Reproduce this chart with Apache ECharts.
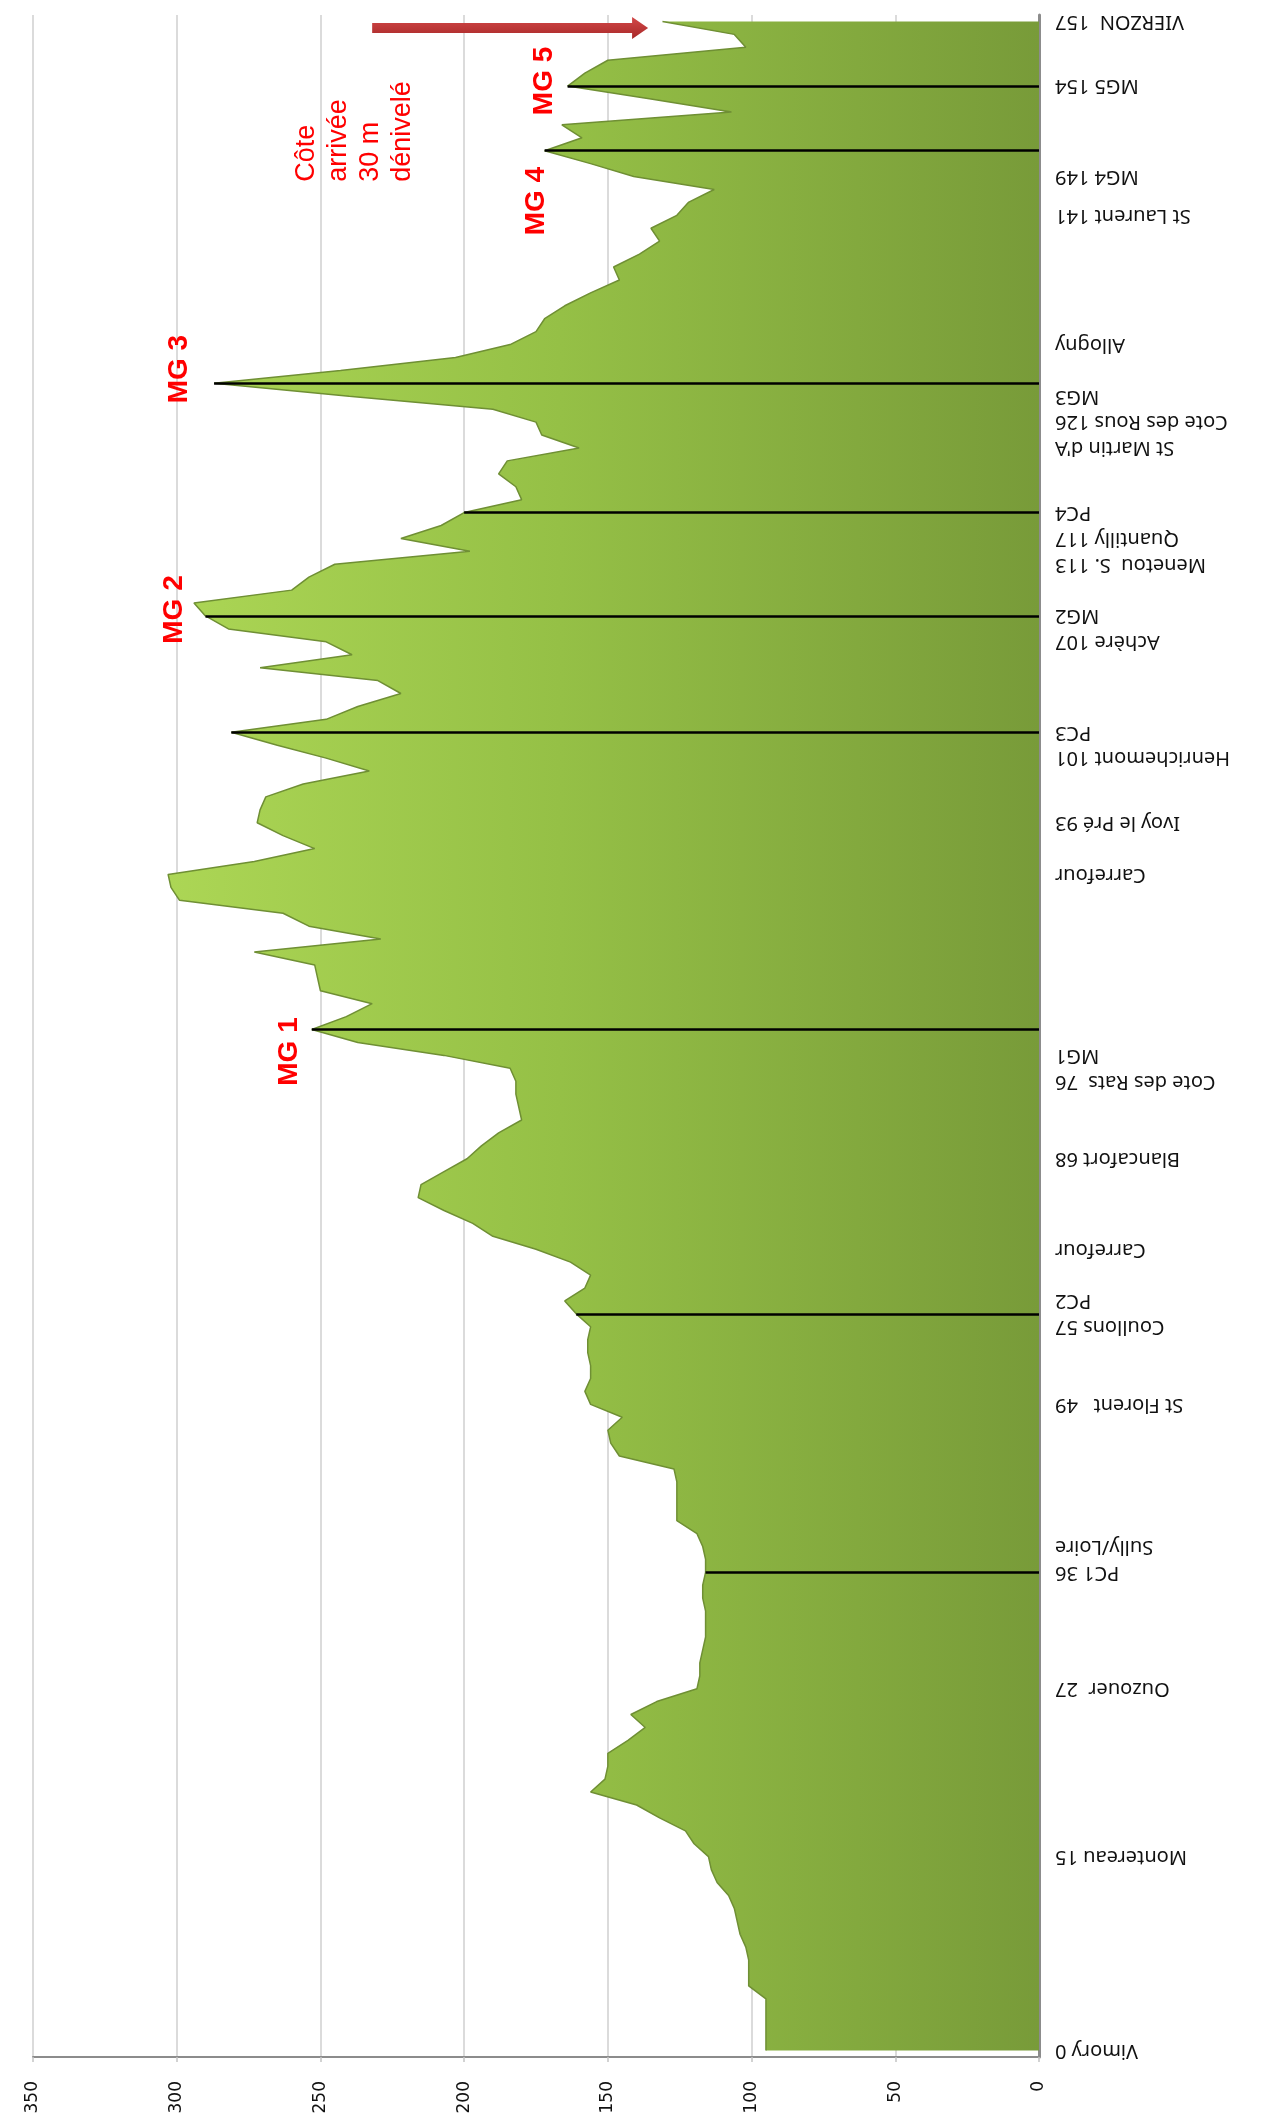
<!DOCTYPE html>
<html><head><meta charset="utf-8">
<script src="https://cdn.jsdelivr.net/npm/echarts@6/dist/echarts.min.js"></script>
<style>html,body{margin:0;padding:0;background:#fff}#c{width:1262px;height:2119px}</style>
</head><body><div id="c"></div>
<script>
// Elevation (m) at each sample point of the route, from Vimory (first) to Vierzon (last)
const elevations = [
  95,95,95,95,95,101,101,101,102,104,
  105,106,108,112,114,115,120,123,132,140,
  156,151,150,150,143,137,142,133,119,118,
  118,117,116,116,116,117,117,116,116,117,
  119,126,126,126,126,127,146,149,150,145,
  156,158,156,156,157,157,156,161,165,158,
  156,163,175,190,197,207,216,215,207,199,
  194,188,180,181,182,182,184,207,237,253,
  241,232,250,251,252,273,229,254,263,299,
  302,303,273,252,263,272,271,269,256,233,
  248,265,281,248,237,222,230,271,239,248,
  282,290,294,260,254,245,198,222,208,200,
  180,182,188,185,160,173,175,190,240,287,
  243,203,184,175,172,165,156,146,148,139,
  132,135,126,122,113,141,156,172,159,166,
  107,135,164,158,150,102,106,131
];
const categories = elevations.map((_, i) => String(i));

// Category (place) labels: sample index and text
const stationIdx  = [0, 15, 28, 37, 39, 50, 56, 58, 62, 69, 75, 77, 91, 95, 100, 102, 109, 111, 115, 117, 119, 124, 126, 128, 132, 142, 145, 152, 157];
const stationText = ['Vimory 0','Montereau 15','Ouzouer  27','PC1 36','Sully/Loire','St Florent   49','Coullons 57','PC2','Carrefour','Blancafort 68','Cote des Rats  76','MG1','Carrefour','Ivoy le Pré 93','Henrichemont 101','PC3','Achère 107','MG2','Menetou  S. 113','Quantilly 117','PC4',"St Martin d'A",'Cote des Rous 126','MG3','Allogny','St Laurent 141','MG4 149','MG5 154','VIERZON  157'];

// Value axis ticks
const valueTicks = [0, 50, 100, 150, 200, 250, 300, 350];

// Drop lines from summits / checkpoints to the axis: [sample index, elevation]
const dropIdx = [37, 57, 79, 102, 111, 119, 129, 147, 152];

// Red annotations: [text, elevation position, sample position]
const mgText = ['MG 5', 'MG 4', 'MG 3', 'MG 2', 'MG 1'];
const mgVal  = [172, 175, 299, 301, 261];
const mgPos  = [152.4, 143.1, 130.1, 111.5, 77.3];

const labelMap = {};
stationIdx.forEach((k, j) => { labelMap[k] = stationText[j]; });

const chart = echarts.init(document.getElementById('c'), null, {renderer: 'canvas'});
const option = {
  animation: false,
  backgroundColor: '#ffffff',
  grid: {left: 33, right: 223, top: 15, bottom: 62, containLabel: false, outerBoundsMode: 'none'},
  xAxis: {
    type: 'value', inverse: true,
    min: valueTicks[0], max: valueTicks[valueTicks.length - 1], interval: valueTicks[1] - valueTicks[0],
    position: 'bottom',
    axisLine: {show: true, onZero: false, lineStyle: {color: '#8c8c8c', width: 2}},
    axisTick: {show: true, length: 5, lineStyle: {color: '#c4c4c4', width: 1.5}},
    axisLabel: {rotate: 90, margin: 24, fontSize: 17, fontFamily: 'DejaVu Sans', color: '#111'},
    splitLine: {show: true, lineStyle: {color: '#cfcfcf', width: 1.5}}
  },
  yAxis: {
    type: 'category', data: categories, position: 'right', boundaryGap: true,
    axisLine: {show: true, onZero: false, lineStyle: {color: '#8c8c8c', width: 3}},
    axisTick: {show: false},
    axisLabel: {interval: 0, rotate: 180, margin: 16, fontSize: 20, fontFamily: 'Noto Sans', color: '#111',
      formatter: (v, idx) => labelMap[idx] || ''},
    splitLine: {show: false}
  },
  series: [{
    type: 'line', data: elevations, symbol: 'none', smooth: false,
    lineStyle: {color: '#6f8f34', width: 1.5},
    areaStyle: {opacity: 1, color: new echarts.graphic.LinearGradient(0, 0, 1, 0, [
      {offset: 0, color: '#acd655'}, {offset: 0.45, color: '#95c046'}, {offset: 1, color: '#789b39'}])},
    markLine: {
      symbol: ['none', 'none'], silent: true, label: {show: false},
      lineStyle: {color: '#000', width: 2.5, type: 'solid'},
      data: dropIdx.map(i => [{coord: [elevations[i], i]}, {coord: [0, i]}])
    }
  }]
};
chart.setOption(option);

const fin = {xAxisIndex: 0, yAxisIndex: 0};
function toPx(v, i) {
  const a = chart.convertToPixel(fin, [v, 0]);
  const b = chart.convertToPixel(fin, [v, elevations.length - 1]);
  return [a[0], a[1] + (b[1] - a[1]) * i / (elevations.length - 1)];
}
const graphics = [];
mgText.forEach((t, j) => {
  const p = toPx(mgVal[j], mgPos[j]);
  graphics.push({type: 'text', x: p[0], y: p[1], rotation: Math.PI / 2, z: 100,
    style: {text: t, fill: '#ff0000', font: 'bold 28px "Liberation Sans"', align: 'center', verticalAlign: 'middle'}});
});
const noteP = toPx(238, 144.6);
graphics.push({type: 'text', x: noteP[0], y: noteP[1], rotation: Math.PI / 2, z: 100,
  style: {text: 'Côte\narrivée\n30 m\ndénivelé', fill: '#ff0000', font: '27px "Liberation Sans"', lineHeight: 32, align: 'left', verticalAlign: 'middle'}});
// finish arrow
const a0 = toPx(232, 156.5), a1 = toPx(136, 156.5);
const th = 5, hw = 11, hl = 16;
graphics.push({type: 'polygon', z: 100, shape: {points: [
  [a0[0], a0[1] - th], [a1[0] - hl, a1[1] - th], [a1[0] - hl, a1[1] - hw], [a1[0], a1[1]],
  [a1[0] - hl, a1[1] + hw], [a1[0] - hl, a1[1] + th], [a0[0], a0[1] + th]]},
  style: {fill: new echarts.graphic.LinearGradient(0, 0, 0, 1, [{offset: 0, color: '#d24848'}, {offset: 1, color: '#a82828'}])}});
chart.setOption({graphic: graphics});
</script></body></html>
